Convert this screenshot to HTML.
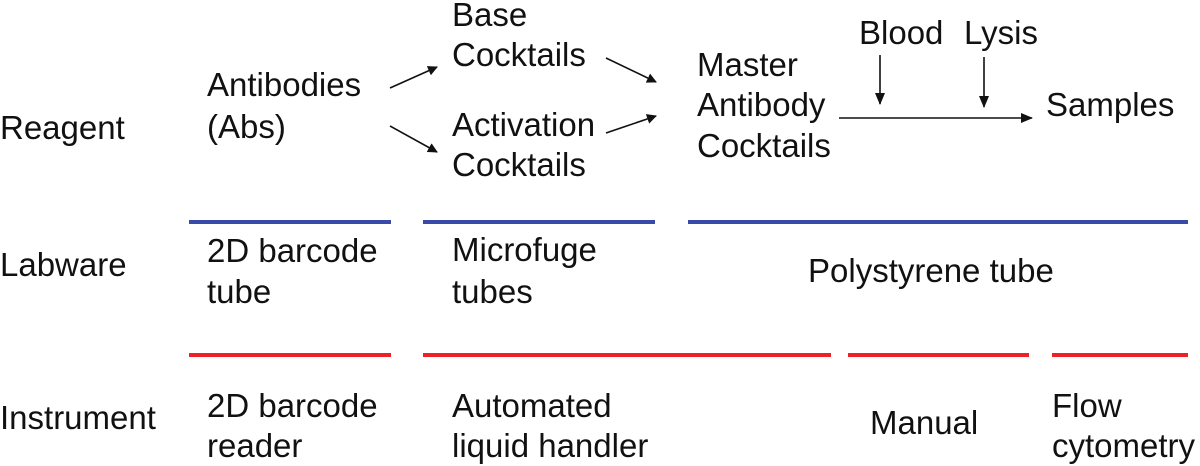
<!DOCTYPE html>
<html><head><meta charset="utf-8"><style>
html,body{margin:0;padding:0;background:#fff;overflow:hidden;}
svg{display:block;}
text{font-family:"Liberation Sans",Arial,sans-serif;font-size:33px;fill:#111;}
</style></head><body>
<svg width="1200" height="466" viewBox="0 0 1200 466" xmlns="http://www.w3.org/2000/svg">
<defs>
<marker id="a" markerWidth="10" markerHeight="10" refX="9" refY="5" orient="auto" markerUnits="userSpaceOnUse">
<path d="M0,0 L10,5 L0,10 z" fill="#111"/>
</marker>
<marker id="b" markerWidth="12" markerHeight="12" refX="11" refY="6" orient="auto" markerUnits="userSpaceOnUse">
<path d="M0,1 L12,6 L0,11 z" fill="#111"/>
</marker>
</defs>
<text x="0" y="139">Reagent</text>
<text x="0" y="276">Labware</text>
<text x="0" y="429">Instrument</text>

<text x="207" y="96">Antibodies</text>
<text x="207" y="138">(Abs)</text>
<text x="452" y="26">Base</text>
<text x="452" y="66">Cocktails</text>
<text x="452" y="136">Activation</text>
<text x="452" y="176">Cocktails</text>
<text x="697" y="76">Master</text>
<text x="697" y="116">Antibody</text>
<text x="697" y="157">Cocktails</text>
<text x="859" y="44">Blood</text>
<text x="964" y="44">Lysis</text>
<text x="1046" y="116">Samples</text>

<g stroke="#111" stroke-width="1.6" fill="none">
<line x1="390" y1="88" x2="437" y2="67" marker-end="url(#a)"/>
<line x1="390" y1="126" x2="437" y2="152" marker-end="url(#a)"/>
<line x1="606" y1="58" x2="656" y2="82" marker-end="url(#a)"/>
<line x1="606" y1="133" x2="656" y2="116" marker-end="url(#a)"/>
<line x1="839" y1="118" x2="1032" y2="118" marker-end="url(#b)"/>
<line x1="880" y1="55" x2="880" y2="104" marker-end="url(#b)"/>
<line x1="984" y1="57" x2="984" y2="107" marker-end="url(#b)"/>
</g>

<g stroke="#3a4aa8" stroke-width="4">
<line x1="189" y1="222" x2="391" y2="222"/>
<line x1="423" y1="222" x2="655" y2="222"/>
<line x1="688" y1="222" x2="1188" y2="222"/>
</g>
<g stroke="#ee2226" stroke-width="4">
<line x1="189" y1="355" x2="391" y2="355"/>
<line x1="423" y1="355" x2="831" y2="355"/>
<line x1="848" y1="355" x2="1029" y2="355"/>
<line x1="1052" y1="355" x2="1188" y2="355"/>
</g>

<text x="207" y="262">2D barcode</text>
<text x="207" y="303">tube</text>
<text x="452" y="261">Microfuge</text>
<text x="452" y="303">tubes</text>
<text x="808" y="282">Polystyrene tube</text>

<text x="207" y="417">2D barcode</text>
<text x="207" y="457">reader</text>
<text x="452" y="417">Automated</text>
<text x="452" y="457">liquid handler</text>
<text x="870" y="434">Manual</text>
<text x="1052" y="417">Flow</text>
<text x="1052" y="457">cytometry</text>
</svg>
</body></html>
